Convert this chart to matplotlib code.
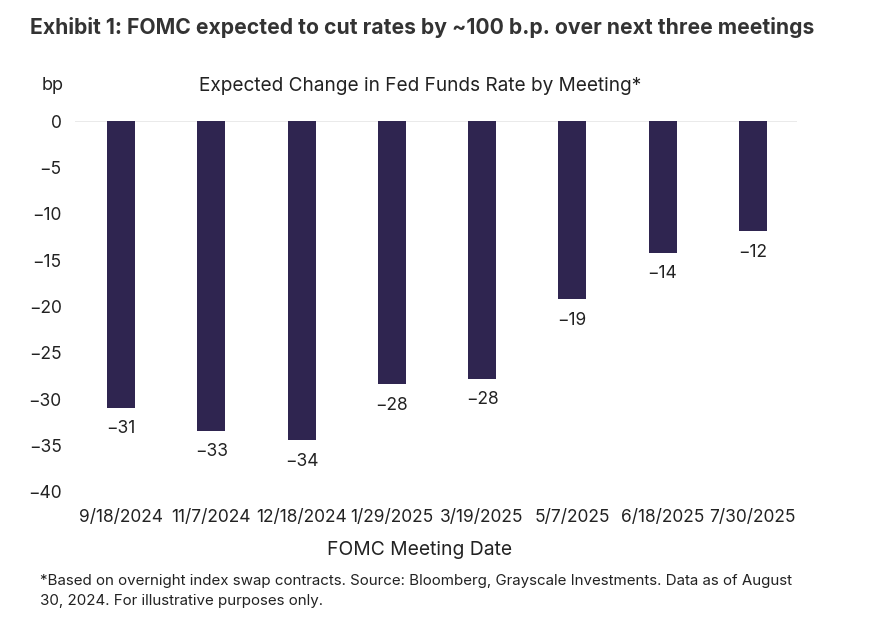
#!python
# -*- coding: utf-8 -*-
"""
FOMC expected rate cuts by meeting - bar chart
"""
import matplotlib
matplotlib.use("Agg")
import matplotlib.pyplot as plt

# Data
meetings = ["9/18/2024", "11/7/2024", "12/18/2024", "1/29/2025",
            "3/19/2025", "5/7/2025", "6/18/2025", "7/30/2025"]
change_bp = [-30.9, -33.4, -34.4, -28.4, -27.8, -19.2, -14.2, -11.9]
bar_labels = ["-31", "-33", "-34", "-28", "-28", "-19", "-14", "-12"]
yticks = [0, -5, -10, -15, -20, -25, -30, -35, -40]

BAR = "#2f2550"
TXT = "#222222"

plt.rcParams['font.family'] = ['Inter', 'DejaVu Sans']


def main():
    fig = plt.figure(figsize=(8.95, 6.31), dpi=100)
    ax = fig.add_axes([75 / 895, 1 - 492 / 631, 722 / 895, 371 / 631])

    x = range(len(meetings))
    ax.bar(x, change_bp, width=0.31, color=BAR, zorder=2)
    for xi, v, lab in zip(x, change_bp, bar_labels):
        ax.annotate(lab.replace("-", "\u2212"), (xi, v), xytext=(0, -9),
                    textcoords="offset points", ha="center", va="top",
                    fontsize=12.5, color=TXT)

    ax.set_xlim(-0.51, 7.49)
    ax.set_ylim(-40, 0)
    ax.axhline(0, color="#e6e6e6", lw=1.2, zorder=1)
    ax.set_yticks(yticks)
    ax.set_yticklabels([str(t).replace("-", "\u2212") for t in yticks])
    ax.set_xticks(list(x))
    ax.set_xticklabels(meetings)
    ax.tick_params(axis="both", length=0, labelsize=12.5, colors=TXT)
    ax.tick_params(axis="y", pad=9.5)
    ax.tick_params(axis="x", pad=12)
    for s in ax.spines.values():
        s.set_visible(False)

    fig.text(30 / 895, 1 - 27 / 631,
             "Exhibit 1: FOMC expected to cut rates by ~100 b.p. over next three meetings",
             fontsize=15.2, fontweight="bold", color="#333333", va="center")
    fig.text(42 / 895, 1 - 86 / 631, "bp", fontsize=13, color=TXT, va="center")
    fig.text(420 / 895, 1 - 86 / 631,
             "Expected Change in Fed Funds Rate by Meeting*",
             fontsize=13.7, color=TXT, va="center", ha="center")
    fig.text(420 / 895, 1 - 550 / 631, "FOMC Meeting Date",
             fontsize=13.9, color=TXT, va="center", ha="center")
    fig.text(40 / 895, 1 - 591 / 631,
             "*Based on overnight index swap contracts. Source: Bloomberg, Grayscale Investments. Data as of August\n"
             "30, 2024. For illustrative purposes only.",
             fontsize=10.9, color=TXT, va="center", linespacing=1.5)

    fig.savefig("out.png", dpi=100)


if __name__ == "__main__":
    main()
